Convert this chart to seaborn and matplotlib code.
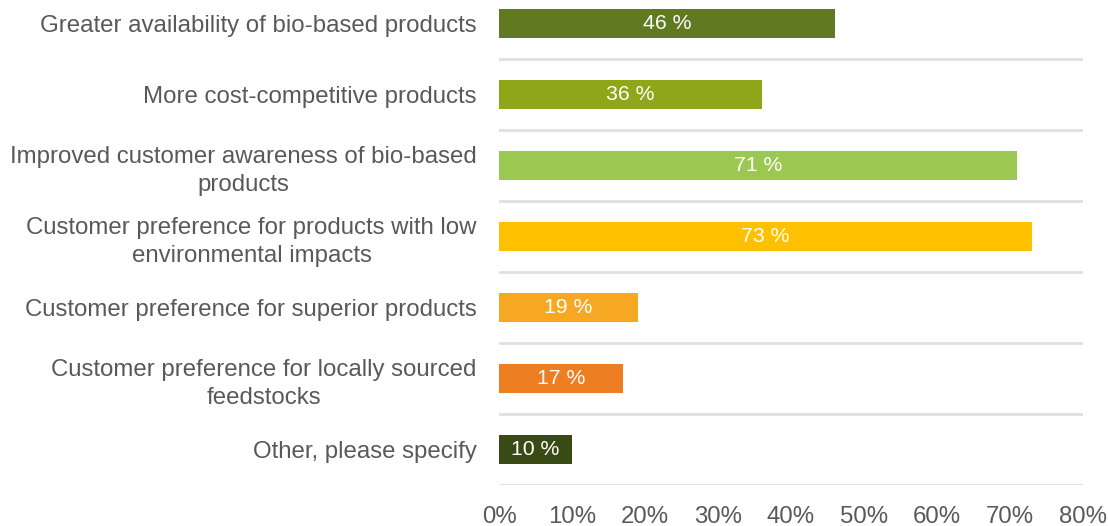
import matplotlib
matplotlib.use("Agg")
import matplotlib.pyplot as plt
import seaborn as sns
import pandas as pd
import numpy as np

categories = [
    "Greater availability of bio-based products",
    "More cost-competitive products",
    "Improved customer awareness of bio-based\nproducts",
    "Customer preference for products with low\nenvironmental impacts",
    "Customer preference for superior products",
    "Customer preference for locally sourced\nfeedstocks",
    "Other, please specify",
]
values = [46, 36, 71, 73, 19, 17, 10]
colors = ["#5F7A21", "#8EA618", "#9BC851", "#FFC000", "#F7A823", "#EE7E22", "#3A4A14"]
xticks = [0, 10, 20, 30, 40, 50, 60, 70, 80]

sns.set_theme(style="white")
plt.rcParams["font.family"] = ["Liberation Sans", "DejaVu Sans"]

df = pd.DataFrame({"category": categories, "value": values})

fig = plt.figure(figsize=(11.08, 5.26), dpi=100)
ax = fig.add_axes([0.4504, 0.078, 0.527, 0.945])

sns.barplot(data=df, y="category", x="value", hue="category",
            palette=colors, orient="h", width=0.41, legend=False,
            saturation=1, linewidth=0, ax=ax)

ax.set_xlim(0, 80)
ax.set_ylim(len(categories) - 0.5, -0.5)
ax.set_xticks(xticks)
ax.set_xticklabels([f"{t}%" for t in xticks])
ax.set_xlabel("")
ax.set_ylabel("")

# separators between category rows
ax.set_yticks(np.arange(len(categories)) + 0.5, minor=True)
ax.grid(False)
ax.grid(axis="y", which="minor", color="#E0E0E0", linewidth=2)
ax.tick_params(axis="both", which="both", length=0)
ax.tick_params(axis="y", which="major", pad=16, labelsize=17.3, labelcolor="#595959")
ax.tick_params(axis="x", pad=15, labelsize=17.3, labelcolor="#595959")
for lbl in ax.get_yticklabels():
    lbl.set_multialignment("center")
    lbl.set_linespacing(1.38)
for s in ax.spines.values():
    s.set_visible(False)

for cont in ax.containers:
    ax.bar_label(cont, labels=[f"{v:.0f} %" for v in cont.datavalues],
                 label_type="center", color="white", fontsize=15.3)

fig.savefig("out.png", dpi=100)
